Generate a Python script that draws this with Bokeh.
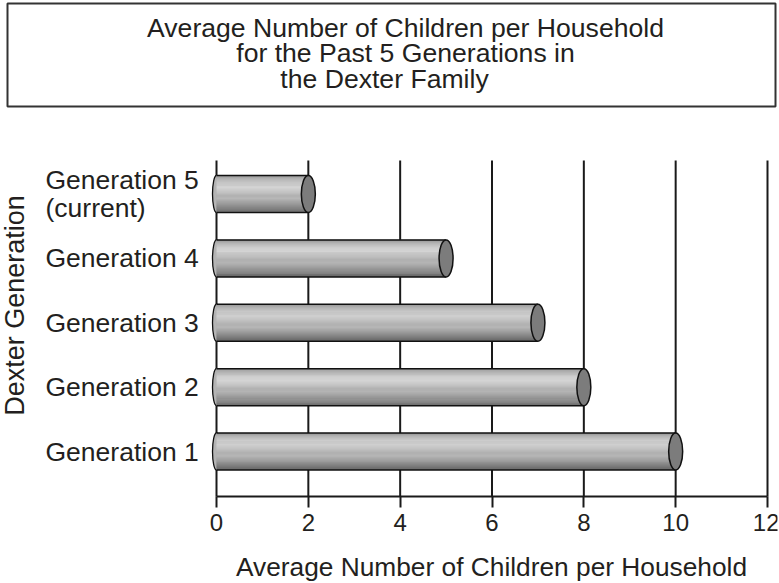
import numpy as np
from bokeh.plotting import figure
from bokeh.models import Range1d, FixedTicker
from bokeh.embed import file_html
from bokeh.resources import INLINE
from bokeh.core.properties import value

# ---------------- data ----------------
title_lines = ["Average Number of Children per Household",
               "for the Past 5 Generations in",
               "the Dexter Family"]
categories = ["Generation 1", "Generation 2", "Generation 3", "Generation 4",
              "Generation 5\n(current)"]
children = [10, 8, 7, 5, 2]
x_ticks = [0, 2, 4, 6, 8, 10, 12]
x_label = "Average Number of Children per Household"
y_label = "Dexter Generation"

# ---------------- style / layout (canvas pixels) ----------------
FONT = "Liberation Sans"
INK = "#231f20"
W, H = 779, 583
FR_RIGHT = 777                          # frame right edge
AXIS_PX = 496                           # where the x axis line sits
X0_PX, X12_PX = 216, 767                # where x=0 and x=12 fall
Y1_PX, Y5_PX = 451, 193.5               # centres of first and last category
SX = (X12_PX - X0_PX) / 12.0
SY = (Y1_PX - Y5_PX) / 4.0


def X(cx):
    return (cx - X0_PX) / SX


def Y(cy):
    return 1 + (Y1_PX - cy) / SY


p = figure(width=W, height=H,
           x_range=Range1d(X(0), X(FR_RIGHT)), y_range=Range1d(Y(H), Y(0)),
           output_backend="svg", toolbar_location=None,
           min_border_left=0, min_border_top=0,
           min_border_right=W - FR_RIGHT, min_border_bottom=0)
p.outline_line_color = None
p.yaxis.visible = False
p.grid.visible = False

# x axis (real axis, limited to 0..12, pinned at the bottom of the bars)
p.xaxis.fixed_location = Y(AXIS_PX)
p.xaxis.bounds = (x_ticks[0], x_ticks[-1])
p.xaxis.ticker = FixedTicker(ticks=x_ticks)
p.xaxis.axis_line_color = "#1a1a1a"
p.xaxis.axis_line_width = 2
p.xaxis.major_tick_line_color = "#1a1a1a"
p.xaxis.major_tick_line_width = 2
p.xaxis.major_tick_out = 11
p.xaxis.major_tick_in = 0
p.xaxis.minor_tick_line_color = None
p.xaxis.major_label_text_font = FONT
p.xaxis.major_label_text_font_size = "24px"
p.xaxis.major_label_text_color = INK
p.xaxis.major_label_standoff = 6

# x axis title, centred under the 0..12 span
p.text(x=[X(491)], y=[Y(566)], text=[x_label],
       text_align="center", text_baseline="middle", text_color=INK,
       text_font=value(FONT), text_font_size="26.3px")

# vertical grid lines at the ticks
p.segment(x0=x_ticks, x1=x_ticks, y0=Y(AXIS_PX), y1=Y(160),
          line_color="#1a1a1a", line_width=2)

# cylinder bars: solid backing + thin strips for a smooth shading
ys = np.arange(1, len(categories) + 1)
bar_h = 37 / SY
p.ellipse(x=0, y=ys, width=8, width_units="screen", height=bar_h,
          fill_color="#b4b4b4", line_color="#111111", line_width=1.3)
p.hbar(y=ys, left=0, right=children, height=bar_h,
       fill_color="#aaaaaa", line_color=None)
shade_pos = [0.0, 0.08, 0.22, 0.32, 0.45, 0.55, 0.62, 0.75, 0.88, 1.0]
shade_lvl = [140, 178, 206, 212, 196, 176, 184, 156, 128, 100]
n = 36
sh = bar_h / n
for k in range(n):
    lvl = int(round(np.interp((k + 0.5) / n, shade_pos, shade_lvl)))
    g = "#{0:02x}{0:02x}{0:02x}".format(lvl)
    off = bar_h / 2 - (k + 0.5) * sh
    p.hbar(y=ys + off, left=0, right=children, height=sh * 1.15,
           fill_color=g, line_color=None)
p.segment(x0=0, x1=children, y0=ys + bar_h / 2, y1=ys + bar_h / 2,
          line_color="#111111", line_width=1.5)
p.segment(x0=0, x1=children, y0=ys - bar_h / 2, y1=ys - bar_h / 2,
          line_color="#111111", line_width=1.5)
p.ellipse(x=children, y=ys, width=14, width_units="screen", height=bar_h,
          fill_color="#7c7c7c", line_color="#111111", line_width=1.5)

# category labels
p.text(x=[X(45)] * len(categories), y=ys, text=categories,
       text_align="left", text_baseline="middle", text_color=INK,
       text_font=value(FONT), text_font_size="26.5px", text_line_height=0.95)

# y axis title (vertical)
p.text(x=[X(14)], y=[Y(305)], text=[y_label], angle=np.pi / 2,
       text_align="center", text_baseline="middle", text_color=INK,
       text_font=value(FONT), text_font_size="27px")

# title box
p.quad(left=X(7), right=X(775), top=Y(3), bottom=Y(106),
       fill_color=None, line_color="#333333", line_width=2)
p.text(x=[X(405), X(405), X(384)], y=[Y(27), Y(52.5), Y(78)], text=title_lines,
       text_align="center", text_baseline="middle", text_color=INK,
       text_font=value(FONT), text_font_size="26.6px")

open("out.html", "w").write(file_html(p, INLINE))
